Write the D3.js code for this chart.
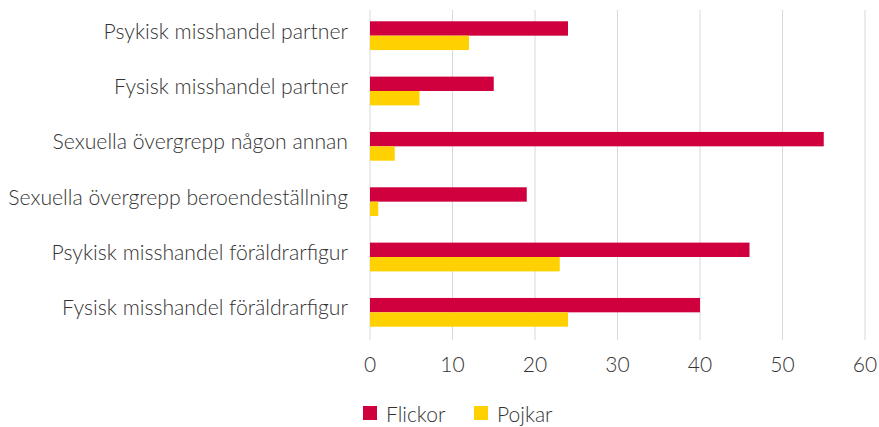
<!DOCTYPE html>
<html>
<head>
<meta charset="utf-8">
<script src="https://cdn.jsdelivr.net/npm/d3@7"></script>
<style>
  body { margin: 0; background: #fff; }
  text { font-family: "Lato", sans-serif; font-weight: 300; fill: #333; }
</style>
</head>
<body>
<div id="chart"></div>
<script>
// data
var categories = ["Psykisk misshandel partner", "Fysisk misshandel partner",
  "Sexuella övergrepp någon annan", "Sexuella övergrepp beroendeställning",
  "Psykisk misshandel föräldrarfigur", "Fysisk misshandel föräldrarfigur"];
var series = ["Flickor", "Pojkar"];
var flickor = [24, 15, 55, 19, 46, 40];
var pojkar = [12, 6, 3, 1, 23, 24];
var ticks = [0, 10, 20, 30, 40, 50, 60];
var colors = ["#d0003f", "#ffd100"];

var width = 879, height = 427;

var svg = d3.select("#chart")
    .append("svg")
    .attr("width", width)
    .attr("height", height);

var x = d3.scaleLinear()
    .domain([0, 60])
    .range([370, 865]);

var y = d3.scaleBand()
    .domain(categories)
    .range([8, 340])
    .padding(0);

var ySub = d3.scaleBand()
    .domain(series)
    .range([y.bandwidth() * 0.24, y.bandwidth() * 0.76]);

// gridlines
svg.append("g")
    .selectAll("line")
    .data(ticks)
    .enter()
    .append("line")
    .attr("x1", d => x(d)).attr("x2", d => x(d))
    .attr("y1", 10).attr("y2", 340)
    .attr("stroke", "#d9d9d9")
    .attr("stroke-width", 1);

// x tick labels
svg.append("g")
    .selectAll("text")
    .data(ticks)
    .enter()
    .append("text")
    .attr("x", d => x(d))
    .attr("y", 372)
    .attr("text-anchor", "middle")
    .style("font-size", "21px")
    .text(d => d);

// category labels
svg.append("g")
    .selectAll("text")
    .data(categories)
    .enter()
    .append("text")
    .attr("x", 348)
    .attr("y", d => y(d) + y.bandwidth() / 2 - 5)
    .attr("text-anchor", "end")
    .attr("dominant-baseline", "central")
    .style("font-size", "21.2px")
    .text(d => d);

// bars
var rows = categories.map((c, i) => ({cat: c, vals: [flickor[i], pojkar[i]]}));
var groups = svg.append("g")
    .selectAll("g")
    .data(rows)
    .enter()
    .append("g")
    .attr("transform", d => "translate(0," + y(d.cat) + ")");

groups.selectAll("rect")
    .data(d => d.vals.map((v, j) => ({key: series[j], value: v, color: colors[j]})))
    .enter()
    .append("rect")
    .attr("x", x(0))
    .attr("y", d => ySub(d.key))
    .attr("width", d => x(d.value) - x(0))
    .attr("height", ySub.bandwidth())
    .attr("fill", d => d.color);

// legend
var legend = svg.append("g")
    .selectAll("g")
    .data(series)
    .enter()
    .append("g")
    .attr("transform", (d, i) => "translate(" + [363, 474][i] + ",406)");

legend.append("rect")
    .attr("width", 14)
    .attr("height", 14)
    .attr("fill", (d, i) => colors[i]);

legend.append("text")
    .attr("x", 23)
    .attr("y", 7)
    .attr("dominant-baseline", "central")
    .style("font-size", "21px")
    .text(d => d);
</script>
</body>
</html>
